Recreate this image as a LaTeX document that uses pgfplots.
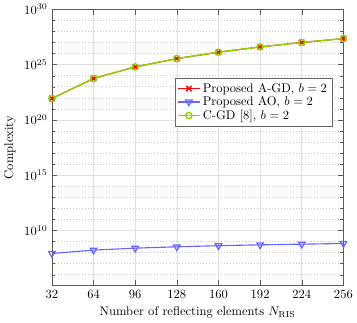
\documentclass[border=0pt]{standalone}
\usepackage{pgfplots}
\pgfplotsset{compat=1.18}
\definecolor{agd}{RGB}{255,0,0}
\definecolor{ao}{RGB}{102,102,255}
\definecolor{cgd}{RGB}{153,204,0}
\begin{document}
\begin{tikzpicture}
\begin{axis}[
  scale only axis,
  width=232pt, height=220pt,
  ymode=log,
  xmin=32, xmax=256,
  ymin=1e5, ymax=1e30,
  xtick={32,64,96,128,160,192,224,256},
  ytick={1e10,1e15,1e20,1e25,1e30},
  minor ytick={1e6,1e7,1e8,1e9,1e11,1e12,1e13,1e14,1e16,1e17,1e18,1e19,1e21,1e22,1e23,1e24,1e26,1e27,1e28,1e29},
  xmajorgrids, ymajorgrids, yminorgrids,
  major grid style={gray!25, line width=0.5pt},
  minor grid style={gray!45, dotted},
  axis line style={draw=black!65},
  tick style={draw=black!65},
  tick align=inside,
  xlabel={Number of reflecting elements $N_{\mathrm{RIS}}$},
  ylabel={Complexity},
  legend style={at={(0.962,0.752)}, anchor=north east,
    draw=black!60, row sep=-2pt, inner sep=2pt},
  legend cell align=left,
]
\addplot[color=agd, line width=0.9pt, mark=x, mark size=3pt, mark options={line width=1.1pt}]
  coordinates {(32,8.51e21) (64,5.50e23) (96,6.17e24) (128,3.47e25) (160,1.32e26) (192,3.98e26) (224,1.00e27) (256,2.24e27)};
\addlegendentry{Proposed A-GD, $b=2$}
\addplot[color=ao, line width=0.9pt, mark=triangle, mark size=3pt, mark options={rotate=180, line width=1pt}]
  coordinates {(32,8.3e7) (64,1.66e8) (96,2.51e8) (128,3.31e8) (160,4.17e8) (192,5.01e8) (224,5.75e8) (256,6.61e8)};
\addlegendentry{Proposed AO, $b=2$}
\addplot[color=cgd, line width=1.1pt, mark=o, mark size=2.5pt, mark options={line width=1.1pt}]
  coordinates {(32,8.51e21) (64,5.50e23) (96,6.17e24) (128,3.47e25) (160,1.32e26) (192,3.98e26) (224,1.00e27) (256,2.24e27)};
\addlegendentry{C-GD [8], $b=2$}
\end{axis}
\end{tikzpicture}
\end{document}
